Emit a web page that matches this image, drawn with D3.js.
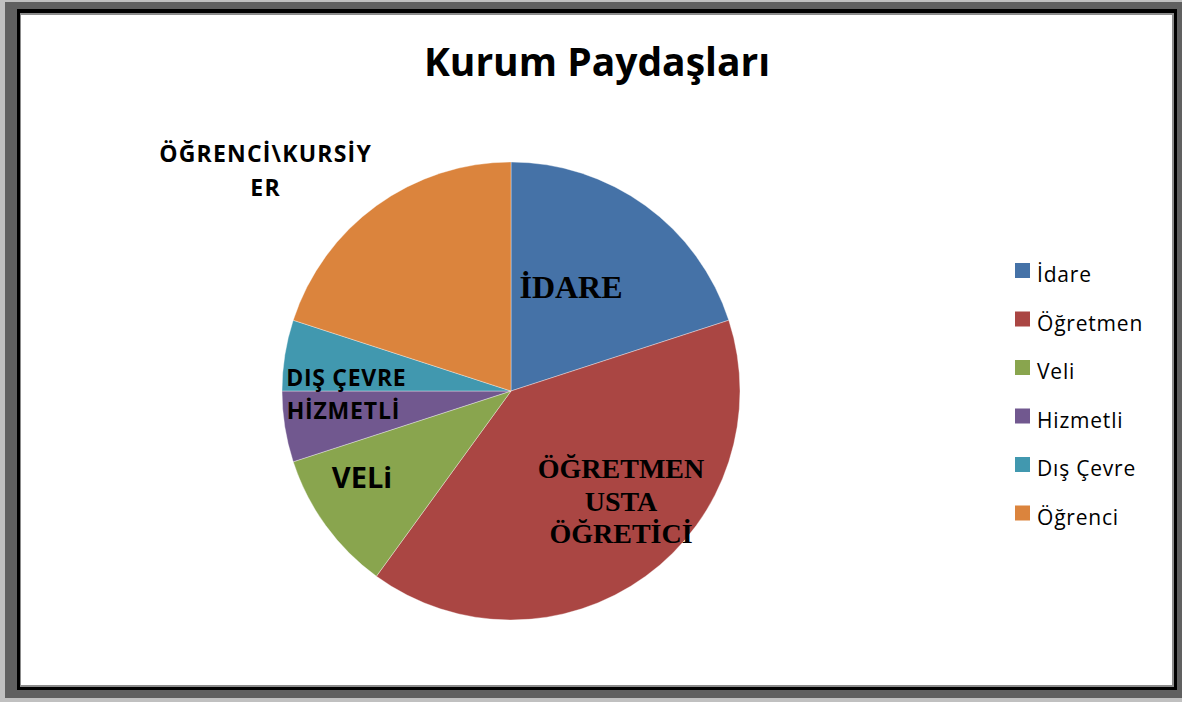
<!DOCTYPE html>
<html><head><meta charset="utf-8">
<script src="https://cdn.jsdelivr.net/npm/d3@7"></script>
<style>html,body{margin:0;padding:0;background:#c0c0c0;overflow:hidden}</style>
</head><body>
<script>
const categories = ["İdare","Öğretmen","Veli","Hizmetli","Dış Çevre","Öğrenci"];
const values = [20, 40, 10, 5, 5, 20];
const colors = ["#4572a7","#aa4643","#89a54e","#71588f","#4198af","#db843d"];

const W = 1182, H = 702;
const svg = d3.select("body").append("svg").attr("width", W).attr("height", H);

// frame
svg.append("rect").attr("x",5).attr("y",2).attr("width",1177).attr("height",696).attr("fill","#606060");
svg.append("rect").attr("x",17).attr("y",9).attr("width",1160).attr("height",681).attr("fill","#000");
svg.append("rect").attr("x",20).attr("y",13).attr("width",1154).attr("height",674).attr("fill","#8c8c8c");
svg.append("rect").attr("x",21).attr("y",15).attr("width",1151).attr("height",670).attr("fill","#fff");

const sans = "'Open Sans', sans-serif";
svg.append("text").attr("x",597).attr("y",76).attr("text-anchor","middle")
  .attr("font-family",sans).attr("font-weight","bold").attr("font-size",39)
  .attr("fill","#000").text("Kurum Paydaşları");

const cx = 511, cy = 391, r = 229;
const pie = d3.pie().sort(null).value(d => d.v);
const arcs = pie(categories.map((c,i)=>({c, v: values[i], col: colors[i]})));
const arc = d3.arc().innerRadius(0).outerRadius(r);
const g = svg.append("g").attr("transform",`translate(${cx},${cy})`);
g.selectAll("path").data(arcs).join("path").attr("d",arc)
  .attr("fill",d=>d.data.col).attr("stroke","#fff").attr("stroke-width",0.6).attr("stroke-opacity",0.6);

// data labels
const serif = "'Liberation Serif', serif";
const labels = [
  {lines:["İDARE"], x:571, y:298, font:serif, size:32, ls:0},
  {lines:["ÖĞRETMEN","USTA","ÖĞRETİCİ"], x:621, y:478, dy:32.5, font:serif, size:28, ls:0},
  {lines:["VELi"], x:362, y:488, font:sans, size:29, ls:0},
  {lines:["HİZMETLİ"], x:343, y:419, font:sans, size:23, ls:0.8},
  {lines:["DIŞ ÇEVRE"], x:346, y:386, font:sans, size:23, ls:0.7},
  {lines:["ÖĞRENCİ\\KURSİY","ER"], x:265, y:162, dy:34, font:sans, size:23, ls:1.2}
];
labels.forEach(l=>{
  const t = svg.append("text").attr("text-anchor","middle").attr("font-family",l.font)
    .attr("font-weight","bold").attr("font-size",l.size).attr("letter-spacing",l.ls).attr("fill","#000");
  l.lines.forEach((s,i)=>t.append("tspan").attr("x",l.x + l.ls/2).attr("y",l.y+i*(l.dy||0)).text(s));
});

// legend
const leg = svg.append("g");
categories.forEach((c,i)=>{
  const y = 270.5 + i*48.5;
  leg.append("rect").attr("x",1015).attr("y",y-7.5).attr("width",15).attr("height",15).attr("fill",colors[i]);
  leg.append("text").attr("x",1037).attr("y",y+11.5).attr("font-family",sans)
    .attr("font-size",21).attr("letter-spacing",0.8).attr("fill","#000").text(c);
});
</script>
</body></html>
